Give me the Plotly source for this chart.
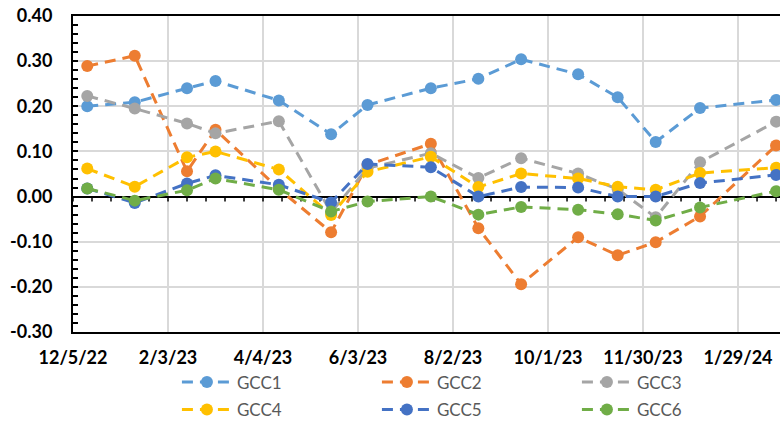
import pandas as pd
import plotly.graph_objects as go

# Observation dates (roughly monthly)
dates = ["2022-12-14", "2023-01-13", "2023-02-15", "2023-03-05", "2023-04-14",
         "2023-05-17", "2023-06-09", "2023-07-19", "2023-08-18", "2023-09-14",
         "2023-10-20", "2023-11-14", "2023-12-08", "2024-01-05", "2024-02-22"]

gcc1 = [0.200, 0.209, 0.240, 0.256, 0.213, 0.138, 0.203, 0.240, 0.261, 0.304, 0.271, 0.220, 0.121, 0.196, 0.214]
gcc2 = [0.289, 0.312, 0.056, 0.148, 0.017, -0.079, 0.070, 0.117, -0.070, -0.194, -0.090, -0.130, -0.101, -0.044, 0.113]
gcc3 = [0.223, 0.195, 0.162, 0.140, 0.167, -0.035, 0.063, 0.096, 0.041, 0.085, 0.051, 0.016, -0.046, 0.076, 0.166]
gcc4 = [0.062, 0.022, 0.087, 0.100, 0.060, -0.041, 0.055, 0.088, 0.021, 0.051, 0.040, 0.022, 0.015, 0.052, 0.064]
gcc5 = [0.018, -0.014, 0.029, 0.047, 0.026, -0.013, 0.072, 0.065, 0.000, 0.021, 0.020, 0.000, 0.000, 0.030, 0.048]
gcc6 = [0.018, -0.009, 0.014, 0.040, 0.015, -0.033, -0.011, 0.000, -0.040, -0.023, -0.029, -0.039, -0.053, -0.024, 0.012]

series_names = ["GCC1", "GCC2", "GCC3", "GCC4", "GCC5", "GCC6"]
series_values = [gcc1, gcc2, gcc3, gcc4, gcc5, gcc6]
series_colors = ["#5B9BD5", "#ED7D31", "#A5A5A5", "#FFC000", "#4472C4", "#70AD47"]

y_tick_vals = [-0.3, -0.2, -0.1, 0.0, 0.1, 0.2, 0.3, 0.4]
y_tick_text = ["-0.30", "-0.20", "-0.10", "0.00", "0.10", "0.20", "0.30", "0.40"]

x_start = pd.Timestamp("2022-12-05")
x_end = pd.Timestamp("2024-02-24 12:00")
DAY_MS = 86400000

fig = go.Figure()
for i, (name, vals, col) in enumerate(zip(series_names, series_values, series_colors)):
    fig.add_trace(go.Scatter(
        x=pd.to_datetime(dates), y=vals, name=name,
        mode="lines+markers",
        line=dict(color=col, width=3, dash="11px,7px"),
        marker=dict(color=col, size=12),
        legend="legend" if i < 3 else "legend2",
    ))

# small tick marks hanging below the zero line every 12 days
d = x_start
while d <= x_end:
    fig.add_shape(type="line", xref="x", yref="y", x0=d, x1=d, y0=0, y1=-0.011,
                  line=dict(color="black", width=1.5), layer="between")
    d += pd.Timedelta(days=12)

tick_font = dict(family="Lato", size=18, color="black", weight="bold")
legend_common = dict(orientation="h", xanchor="left", yanchor="middle",
                     font=dict(family="Lato", size=17, color="#595959"),
                     bgcolor="rgba(0,0,0,0)", entrywidth=135, entrywidthmode="pixels",
                     itemwidth=50)

fig.update_layout(
    width=780, height=428,
    margin=dict(l=73, r=0, t=16, b=92),
    paper_bgcolor="white", plot_bgcolor="white",
    xaxis=dict(
        type="date", range=[x_start, x_end],
        tick0=x_start, dtick=60 * DAY_MS, tickformat="%-m/%-d/%y",
        showgrid=True, gridcolor="#D9D9D9", gridwidth=1.5,
        showline=True, linecolor="black", linewidth=2, mirror=True,
        ticks="", tickfont=tick_font, ticklabelstandoff=8,
        zeroline=False,
    ),
    yaxis=dict(
        range=[-0.3, 0.4], tickvals=y_tick_vals, ticktext=y_tick_text,
        showgrid=True, gridcolor="#D9D9D9", gridwidth=1.5,
        showline=True, linecolor="black", linewidth=2,
        ticks="inside", ticklen=5, tickwidth=1.5, tickcolor="black",
        minor=dict(dtick=0.02, ticks="inside", ticklen=5, tickwidth=1.5,
                   tickcolor="black", showgrid=False),
        zeroline=True, zerolinecolor="black", zerolinewidth=2,
        tickfont=tick_font, ticklabelstandoff=15,
    ),
    legend=dict(x=0.147, y=-0.16, **legend_common),
    legend2=dict(x=0.147, y=-0.247, **legend_common),
)

fig.write_html("out.html")
